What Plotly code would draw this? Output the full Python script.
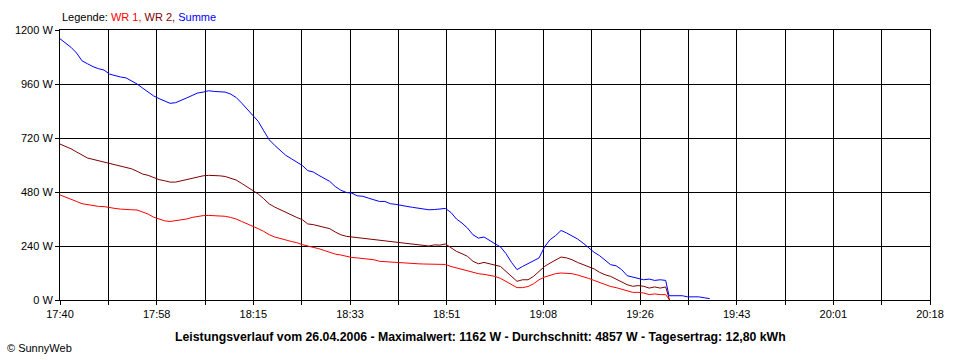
import plotly.graph_objects as go

# ---- data (minutes after 17:40, watts) ----
minutes_wr = list(range(0, 111)) + [110.7]
wr1 = [467, 458, 450, 438, 428, 424, 419, 416, 415, 410,
       407, 404, 401, 401, 400, 391, 382, 368, 360, 352,
       349, 352, 355, 360, 367, 372, 375, 376, 375, 375,
       372, 367, 360, 349, 339, 327, 317, 305, 290, 280,
       272, 267, 260, 255, 246, 241, 236, 228, 220, 212,
       204, 200, 194, 189, 187, 185, 182, 179, 172, 170,
       170, 169, 167, 164, 161, 161, 160, 160, 160, 160,
       158, 149, 142, 135, 129, 123, 117, 114, 111, 105,
       96, 83, 68, 55, 55, 60, 72, 90, 102, 111,
       117, 120, 120, 117, 111, 105, 96, 87, 78, 69,
       60, 55, 48, 39, 34, 34, 31, 24, 27, 24, 24, 0]
wr2 = [693, 683, 672, 658, 643, 631, 625, 619, 613, 604,
       598, 595, 589, 583, 572, 560, 554, 543, 535, 530,
       524, 524, 530, 536, 542, 548, 552, 554, 554, 552,
       549, 542, 533, 518, 502, 487, 471, 450, 427, 413,
       401, 389, 379, 367, 357, 338, 335, 330, 324, 317,
       302, 290, 283, 280, 277, 275, 274, 271, 268, 265,
       259, 256, 253, 252, 249, 246, 241, 240, 245, 244,
       249, 231, 216, 206, 194, 172, 161, 167, 161, 152,
       149, 127, 105, 83, 90, 90, 105, 127, 149, 164,
       179, 191, 187, 179, 167, 158, 149, 138, 123, 112,
       105, 93, 83, 68, 61, 64, 61, 53, 58, 53, 58, 0]
minutes_sum = list(range(0, 111)) + [110.6, 111, 112, 113, 114, 115, 116, 117, 118]
summe = [1161, 1142, 1123, 1098, 1063, 1050, 1037, 1028, 1022, 1004,
         997, 991, 987, 975, 960, 942, 923, 907, 895, 886,
         874, 877, 886, 898, 909, 920, 924, 930, 927, 926,
         924, 915, 900, 875, 847, 824, 794, 752, 712, 687,
         664, 643, 628, 613, 598, 575, 569, 554, 542, 527,
         504, 488, 478, 475, 463, 461, 453, 446, 438, 438,
         428, 425, 419, 416, 412, 409, 404, 401, 402, 404,
         407, 389, 360, 342, 320, 290, 275, 280, 264, 250,
         236, 206, 167, 135, 149, 161, 174, 187, 236, 268,
         286, 309, 298, 286, 271, 253, 231, 212, 197, 179,
         157, 152, 135, 108, 102, 93, 90, 93, 87, 90, 87,
         19, 19, 19, 19, 14, 14, 14, 10, 6]

x_tick_labels = ["17:40", "", "17:58", "", "18:15", "", "18:33", "", "18:51", "",
                 "19:08", "", "19:26", "", "19:43", "", "20:01", "", "20:18"]
y_tick_values = [0, 240, 480, 720, 960, 1200]
y_tick_labels = ["0 W", "240 W", "480 W", "720 W", "960 W", "1200 W"]
span_minutes = 158  # 17:40 .. 20:18

FONT = "Liberation Sans, Arial, sans-serif"

fig = go.Figure()
fig.add_trace(go.Scatter(x=minutes_wr, y=wr1, mode="lines", name="WR 1",
                         line=dict(color="#FF0000", width=1)))
fig.add_trace(go.Scatter(x=minutes_wr, y=wr2, mode="lines", name="WR 2",
                         line=dict(color="#800000", width=1)))
fig.add_trace(go.Scatter(x=minutes_sum, y=summe, mode="lines", name="Summe",
                         line=dict(color="#0000FF", width=1)))

n_int = len(x_tick_labels) - 1
x_tick_vals = [i * span_minutes / n_int for i in range(n_int + 1)]

fig.update_layout(
    width=960, height=360,
    margin=dict(l=60, r=30, t=30, b=60),
    paper_bgcolor="white", plot_bgcolor="white",
    showlegend=False,
    font=dict(family=FONT, size=11, color="black"),
    xaxis=dict(range=[0, span_minutes], tickmode="array", tickvals=x_tick_vals,
               ticktext=x_tick_labels, showgrid=True, gridcolor="black", gridwidth=1,
               showline=True, linecolor="black", linewidth=1, mirror=True,
               ticks="outside", ticklen=4, tickcolor="black", zeroline=False,
               tickfont=dict(family=FONT, size=11)),
    yaxis=dict(range=[0, 1200], tickmode="array", tickvals=y_tick_values,
               ticktext=y_tick_labels, showgrid=True, gridcolor="black", gridwidth=1,
               showline=True, linecolor="black", linewidth=1, mirror=True,
               ticks="outside", ticklen=4, tickcolor="black", zeroline=False,
               tickfont=dict(family=FONT, size=11)),
)

fig.add_annotation(
    xref="paper", yref="paper", x=0, y=1 + 13 / 270, xanchor="left", yanchor="middle",
    showarrow=False,
    text='Legende: <span style="color:#FF0000">WR 1,</span> '
         '<span style="color:#800000">WR 2,</span> '
         '<span style="color:#0000FF">Summe</span>',
    font=dict(family=FONT, size=11, color="black"))

fig.add_annotation(
    xref="paper", yref="paper", x=(480 - 60) / 870, y=-37 / 270,
    xanchor="center", yanchor="middle", showarrow=False,
    text="<b>Leistungsverlauf vom 26.04.2006 - Maximalwert: 1162 W - "
         "Durchschnitt: 4857 W - Tagesertrag: 12,80 kWh</b>",
    font=dict(family=FONT, size=12.3, color="black"))

fig.add_annotation(
    xref="paper", yref="paper", x=-55 / 870, y=-48 / 270,
    xanchor="left", yanchor="middle", showarrow=False,
    text="© SunnyWeb", font=dict(family=FONT, size=11, color="black"))

fig.write_html("out.html",
               config={"displayModeBar": False},
               post_script="document.body.style.margin='0';document.body.style.overflow='hidden';")
